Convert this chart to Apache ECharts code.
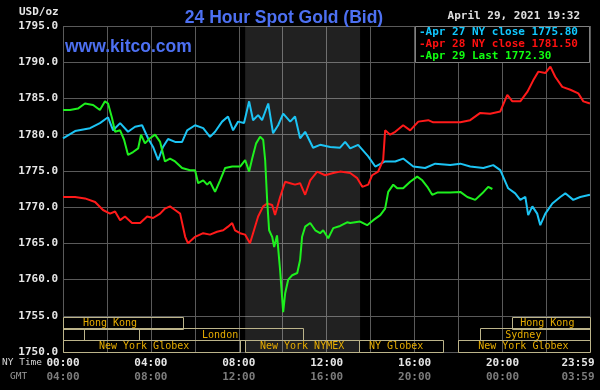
<!DOCTYPE html>
<html>
<head>
<meta charset="utf-8">
<script src="https://cdn.jsdelivr.net/npm/echarts@6/dist/echarts.min.js"></script>
<style>
html,body{margin:0;padding:0;background:#000;}
#chart{width:600px;height:390px;}
</style>
</head>
<body>
<div id="chart"></div>
<script>
// ---- Data (hours NY time, price USD/oz) ----
const hoursApr27 = [0,0.55,1.23,1.68,2.05,2.28,2.60,2.96,3.28,3.60,3.87,4.10,4.33,4.55,4.78,5.10,5.42,5.65,6.01,6.38,6.69,6.92,7.24,7.51,7.74,7.97,8.24,8.47,8.65,8.88,9.06,9.34,9.56,9.79,10.02,10.34,10.56,10.79,11.02,11.11,11.38,11.70,12.16,12.61,12.84,13.07,13.43,13.89,14.21,14.66,15.12,15.48,15.94,16.48,16.94,17.62,18.08,18.53,19.13,19.58,19.90,20.26,20.58,20.81,21.04,21.17,21.36,21.58,21.72,21.95,22.27,22.63,22.86,23.22,23.54,23.98];
const pricesApr27 = [1779.5,1780.5,1780.9,1781.6,1782.4,1780.6,1781.6,1780.4,1781.1,1781.3,1779.5,1778.3,1776.5,1778.3,1779.4,1779.0,1779.0,1780.6,1781.3,1780.9,1779.7,1780.4,1781.8,1782.5,1780.6,1781.8,1781.6,1784.6,1782.0,1782.7,1782.0,1784.3,1780.2,1781.3,1782.9,1781.8,1782.5,1779.5,1780.4,1780.6,1778.2,1778.6,1778.3,1778.2,1779.0,1778.1,1778.6,1777.0,1775.6,1776.3,1776.3,1776.7,1775.6,1775.4,1776.0,1775.8,1776.0,1775.6,1775.4,1775.8,1775.1,1772.6,1771.9,1771.0,1771.4,1768.9,1770.1,1769.1,1767.5,1769.1,1770.5,1771.4,1771.9,1771.0,1771.4,1771.7];

const hoursApr28 = [0,0.55,1.00,1.46,1.82,2.14,2.37,2.60,2.82,3.14,3.51,3.83,4.10,4.42,4.64,4.87,5.10,5.33,5.56,5.69,6.01,6.38,6.69,7.01,7.29,7.51,7.70,7.83,8.06,8.29,8.51,8.65,8.88,9.11,9.29,9.52,9.65,9.88,10.11,10.34,10.56,10.79,11.02,11.25,11.57,11.93,12.30,12.61,13.07,13.39,13.62,13.89,14.07,14.34,14.57,14.66,14.89,15.12,15.48,15.80,16.17,16.62,16.85,17.40,18.08,18.53,18.99,19.44,19.90,20.22,20.45,20.81,21.13,21.40,21.63,21.95,22.18,22.40,22.72,23.09,23.45,23.68,23.98];
const pricesApr28 = [1771.4,1771.4,1771.2,1770.7,1769.6,1769.1,1769.4,1768.2,1768.7,1767.8,1767.8,1768.7,1768.5,1769.1,1769.8,1770.1,1769.6,1769.1,1765.9,1765.0,1765.9,1766.4,1766.2,1766.6,1766.8,1767.3,1767.8,1766.8,1766.4,1766.2,1765.0,1766.4,1768.7,1770.1,1770.5,1770.3,1768.9,1771.4,1773.5,1773.3,1773.1,1773.3,1771.7,1773.7,1774.9,1774.4,1774.7,1774.9,1774.7,1774.0,1772.8,1773.1,1774.4,1774.9,1776.5,1780.6,1780.0,1780.4,1781.3,1780.6,1781.8,1782.0,1781.7,1781.7,1781.7,1782.0,1783.0,1782.9,1783.2,1785.5,1784.6,1784.6,1785.9,1787.5,1788.7,1788.5,1789.4,1788.0,1786.6,1786.2,1785.7,1784.6,1784.3];

const hoursApr29 = [0,0.32,0.68,1.00,1.37,1.68,1.91,2.05,2.23,2.37,2.60,2.78,2.96,3.19,3.42,3.55,3.73,3.96,4.19,4.42,4.64,4.87,5.10,5.42,5.78,6.01,6.15,6.38,6.56,6.69,6.92,7.15,7.38,7.70,8.06,8.29,8.47,8.61,8.79,8.97,9.11,9.20,9.29,9.38,9.52,9.61,9.74,9.88,10.02,10.11,10.25,10.43,10.66,10.79,10.88,11.02,11.25,11.48,11.70,11.84,12.07,12.30,12.61,12.93,13.07,13.52,13.84,14.12,14.44,14.66,14.80,15.03,15.21,15.48,15.80,16.12,16.35,16.58,16.80,17.03,17.62,18.08,18.40,18.76,19.08,19.35,19.54];
const pricesApr29 = [1783.4,1783.4,1783.6,1784.3,1784.1,1783.4,1784.6,1784.3,1782.3,1780.4,1780.6,1779.3,1777.2,1777.6,1778.1,1780.0,1778.8,1779.5,1780.0,1779.0,1776.3,1776.7,1776.3,1775.4,1775.1,1775.1,1773.3,1773.7,1773.1,1773.5,1772.1,1773.7,1775.4,1775.6,1775.6,1776.5,1774.9,1776.7,1778.8,1779.7,1779.3,1776.5,1771.0,1766.8,1765.9,1764.5,1766.1,1761.3,1755.5,1758.1,1760.0,1760.6,1760.9,1762.7,1765.9,1767.3,1767.8,1766.8,1766.4,1766.8,1765.7,1767.1,1767.4,1767.9,1767.8,1768.0,1767.5,1768.2,1768.9,1769.8,1772.1,1773.1,1772.6,1772.6,1773.5,1774.2,1773.7,1772.8,1771.7,1772.0,1772.0,1772.1,1771.4,1771.0,1771.9,1772.8,1772.5];

const legendNames = ['Apr 27 NY close', 'Apr 28 NY close', 'Apr 29 Last'];
const legendValues = [1775.80, 1781.50, 1772.30];

const yTicks = [1750, 1795, 5];          // min, max, step
const nyTimeLabels = ['00:00','04:00','08:00','12:00','16:00','20:00','23:59'];
const gmtLabels    = ['04:00','08:00','12:00','16:00','20:00','00:00','03:59'];

// market sessions: start hour, end hour, row, label hour, name
const sessionStart = [0, 20.45, 0, 0.96, 3.46, 18.96, 0, 8.29, 13.48, 17.99];
const sessionEnd   = [5.46, 23.98, 0.96, 3.46, 10.93, 23.98, 8.06, 13.48, 17.32, 23.98];
const sessionRow   = [0, 0, 1, 1, 1, 1, 2, 2, 2, 2];
const sessionLabelAt = [2.14, 22.04, null, null, 7.15, 20.95, 3.69, 10.88, 15.16, 20.95];
const sessionNames = ['Hong Kong','Hong Kong','','','London','Sydney','New York Globex','New York NYMEX','NY Globex','New York Globex'];

const nymexShade = [8.29, 13.52];

// ---- Build ----
const zip = (a, b) => a.map((h, i) => [h, b[i]]);
const colors = ['#1cc4f4', '#ff1a1a', '#1ef01e'];
const legendColors = ['#10c8ff', '#ff1010', '#10ff10'];
const mono = 'DejaVu Sans Mono';

const chart = echarts.init(document.getElementById('chart'), null, {renderer: 'canvas'});

const sessionData = sessionStart.map((s, i) => [s, sessionEnd[i], sessionRow[i], sessionLabelAt[i] == null ? -1 : sessionLabelAt[i], i]);

const tickIdx = v => Math.round(v / 4);
const timeFormatter = labels => v => {
  if (v > 23.9) return '{last|' + labels[6] + '}';
  const r = Math.round(v);
  if (r % 4 !== 0) return '';
  return labels[tickIdx(r)];
};

const option = {
  backgroundColor: '#000',
  animation: false,
  title: {
    text: '24 Hour Spot Gold (Bid)',
    left: 279, top: 4, textAlign: 'center',
    textStyle: {color: '#4d70f2', fontSize: 17.5, fontWeight: 'bold', fontFamily: 'Liberation Sans'}
  },
  grid: {left: 63, right: 10, top: 26, bottom: 38, containLabel: false, outerBoundsMode: 'none'},
  xAxis: [{
    type: 'value', min: 0, max: 23.983, interval: 2,
    axisLine: {show: false}, axisTick: {show: false},
    splitLine: {show: true, lineStyle: {color: '#5a5a5a', width: 1}},
    axisLabel: {
      color: '#e6e6e6', fontFamily: mono, fontWeight: 'bold', fontSize: 11, margin: 6,
      showMaxLabel: true, showMinLabel: true,
      formatter: timeFormatter(nyTimeLabels),
      rich: {last: {color: '#e6e6e6', fontFamily: mono, fontWeight: 'bold', fontSize: 11, padding: [0, 24, 0, 0]}}
    }
  }, {
    type: 'value', min: 0, max: 23.983, interval: 2, position: 'bottom', offset: 14,
    axisLine: {show: false}, axisTick: {show: false}, splitLine: {show: false},
    axisLabel: {
      color: '#7c7c7c', fontFamily: mono, fontWeight: 'bold', fontSize: 11, margin: 6,
      showMaxLabel: true, showMinLabel: true,
      formatter: timeFormatter(gmtLabels),
      rich: {last: {color: '#7c7c7c', fontFamily: mono, fontWeight: 'bold', fontSize: 11, padding: [0, 24, 0, 0]}}
    }
  }],
  yAxis: {
    type: 'value', min: yTicks[0], max: yTicks[1], interval: yTicks[2],
    axisLine: {show: false}, axisTick: {show: false},
    splitLine: {show: true, lineStyle: {color: '#5a5a5a', width: 1}},
    axisLabel: {color: '#e6e6e6', fontFamily: mono, fontWeight: 'bold', fontSize: 11, margin: 5,
      formatter: v => v.toFixed(1)}
  },
  series: [
    {
      type: 'line', name: 'shade', data: [], silent: true, z: 1,
      markArea: {
        silent: true,
        itemStyle: {color: 'rgba(255,255,255,0.13)'},
        data: [[{xAxis: nymexShade[0]}, {xAxis: nymexShade[1]}]]
      }
    },
    {
      type: 'custom', name: 'sessions', z: 3, silent: true,
      data: sessionData,
      renderItem: (params, api) => {
        const top = 1754.85, rowH = 1.6;
        const row = api.value(2);
        const p0 = api.coord([api.value(0), top - row * rowH]);
        const p1 = api.coord([api.value(1), top - (row + 1) * rowH]);
        const idx = api.value(4);
        const children = [{
          type: 'rect',
          shape: {x: Math.round(p0[0]) + 0.5, y: Math.round(p0[1]) + 0.5, width: Math.round(p1[0] - p0[0]), height: Math.round(p1[1] - p0[1])},
          style: {fill: 'none', stroke: '#bcb48a', lineWidth: 1}
        }];
        const name = sessionNames[idx];
        if (name) {
          const lx = api.coord([api.value(3), 0])[0];
          children.push({
            type: 'text',
            style: {
              text: name, x: lx, y: (p0[1] + p1[1]) / 2 + 1,
              align: 'center', verticalAlign: 'middle',
              fill: '#e6ac00', font: '10px "DejaVu Sans Mono"'
            }
          });
        }
        return {type: 'group', children};
      }
    },
    {type: 'line', name: legendNames[0], data: zip(hoursApr27, pricesApr27), showSymbol: false, z: 4,
      lineStyle: {color: colors[0], width: 2}},
    {type: 'line', name: legendNames[1], data: zip(hoursApr28, pricesApr28), showSymbol: false, z: 4,
      lineStyle: {color: colors[1], width: 2}},
    {type: 'line', name: legendNames[2], data: zip(hoursApr29, pricesApr29), showSymbol: false, z: 4,
      lineStyle: {color: colors[2], width: 2}}
  ],
  graphic: [
    {type: 'text', left: 19, top: 7, z: 100,
      style: {text: 'USD/oz', fill: '#e6e6e6', font: 'bold 11px "DejaVu Sans Mono"'}},
    {type: 'text', left: 65, top: 38, z: 100,
      style: {text: 'www.kitco.com', fill: '#4d70f2', font: 'bold 17.5px "Liberation Sans"'}},
    {type: 'text', right: 20, top: 11, z: 100,
      style: {text: 'April 29, 2021 19:32', fill: '#e0e0e0', font: 'bold 11px "DejaVu Sans Mono"'}},
    {type: 'text', left: 2, top: 358, z: 100,
      style: {text: 'NY Time', fill: '#d4d4d4', font: '9.5px "DejaVu Sans Mono"'}},
    {type: 'text', left: 10, top: 372, z: 100,
      style: {text: 'GMT', fill: '#9a9a9a', font: '9.5px "DejaVu Sans Mono"'}},
    {type: 'rect', z: 100, shape: {x: 415.5, y: 26.5, width: 174, height: 36},
      style: {fill: '#000', stroke: '#808080', lineWidth: 1}},
    ...legendNames.map((n, i) => ({
      type: 'text', z: 101, left: 419, top: 27 + i * 11.7,
      style: {text: '-' + n + ' ' + legendValues[i].toFixed(2), fill: legendColors[i], font: 'bold 11px "DejaVu Sans Mono"'}
    }))
  ]
};
chart.setOption(option);
</script>
</body>
</html>
